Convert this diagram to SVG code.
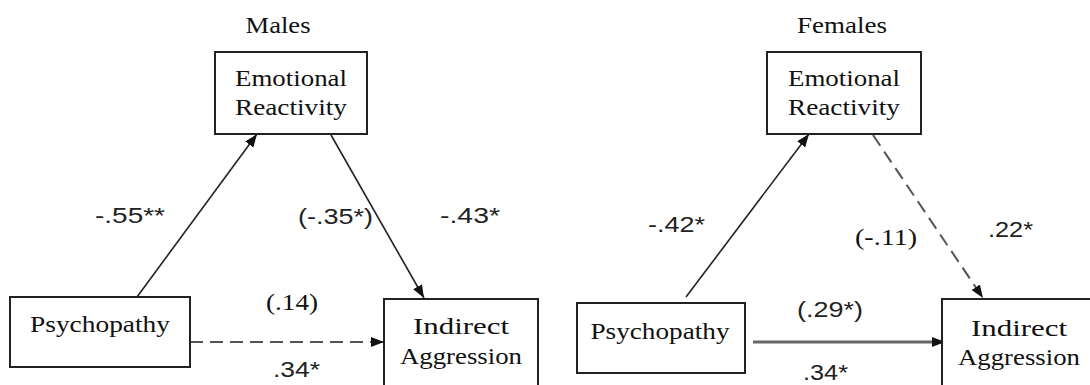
<svg xmlns="http://www.w3.org/2000/svg" width="1090" height="385" viewBox="0 0 1090 385">
<style>
.box{fill:#fff;stroke:#222;stroke-width:2}
.ser{font-family:"Liberation Serif","Times New Roman",serif;font-size:23px;fill:#111}
.san{font-family:"Liberation Sans",Arial,sans-serif;font-size:22px;fill:#222}
.solid{stroke:#222;stroke-width:1.6;fill:none}
.dash{stroke:#555;stroke-width:2;stroke-dasharray:13 7;fill:none}
.gray{stroke:#666;stroke-width:3;fill:none}
</style>
<defs>
<marker id="ah" markerUnits="userSpaceOnUse" markerWidth="14" markerHeight="12" refX="13" refY="5" orient="auto">
<path d="M0,0 L13,5 L0,10 z" fill="#111"/>
</marker>
</defs>
<rect width="1090" height="385" fill="#fff"/>
<text class="ser" x="278" y="33" text-anchor="middle" textLength="65" lengthAdjust="spacingAndGlyphs">Males</text>
<text class="ser" x="842" y="33" text-anchor="middle" textLength="90" lengthAdjust="spacingAndGlyphs">Females</text>
<g id="connectors">
<line class="solid" x1="137" y1="297" x2="257" y2="134" marker-end="url(#ah)"/>
<line class="solid" x1="331" y1="135" x2="424" y2="298" marker-end="url(#ah)"/>
<line class="dash" x1="190" y1="342" x2="384" y2="342" marker-end="url(#ah)"/>
<line class="solid" x1="686" y1="297" x2="809" y2="134" marker-end="url(#ah)"/>
<line class="dash" x1="873" y1="135" x2="983" y2="298" marker-end="url(#ah)"/>
<line class="gray" x1="753" y1="342" x2="945" y2="342" marker-end="url(#ah)"/>
</g>
<g id="m-emotional">
<rect class="box" x="215" y="52" width="152" height="82"/>
<text class="ser" x="291" y="86" text-anchor="middle" textLength="112" lengthAdjust="spacingAndGlyphs">Emotional</text>
<text class="ser" x="291" y="115" text-anchor="middle" textLength="112" lengthAdjust="spacingAndGlyphs">Reactivity</text>
</g>
<g id="m-psychopathy">
<rect class="box" x="10" y="297" width="180" height="70"/>
<text class="ser" x="100" y="332" text-anchor="middle" textLength="140" lengthAdjust="spacingAndGlyphs">Psychopathy</text>
</g>
<g id="m-indirect">
<rect class="box" x="384" y="299" width="154" height="100"/>
<text class="ser" x="461" y="334" text-anchor="middle" textLength="96" lengthAdjust="spacingAndGlyphs">Indirect</text>
<text class="ser" x="461" y="364" text-anchor="middle" textLength="122" lengthAdjust="spacingAndGlyphs">Aggression</text>
</g>
<g id="f-emotional">
<rect class="box" x="767" y="52" width="154" height="82"/>
<text class="ser" x="844" y="86" text-anchor="middle" textLength="112" lengthAdjust="spacingAndGlyphs">Emotional</text>
<text class="ser" x="844" y="115" text-anchor="middle" textLength="112" lengthAdjust="spacingAndGlyphs">Reactivity</text>
</g>
<g id="f-psychopathy">
<rect class="box" x="577" y="303" width="168" height="70"/>
<text class="ser" x="660" y="339" text-anchor="middle" textLength="139" lengthAdjust="spacingAndGlyphs">Psychopathy</text>
</g>
<g id="f-indirect">
<rect class="box" x="942" y="299" width="154" height="100"/>
<text class="ser" x="1019" y="336" text-anchor="middle" textLength="96" lengthAdjust="spacingAndGlyphs">Indirect</text>
<text class="ser" x="1019" y="365" text-anchor="middle" textLength="122" lengthAdjust="spacingAndGlyphs">Aggression</text>
</g>
<g id="labels">
<text class="san" x="95" y="223" textLength="70" lengthAdjust="spacingAndGlyphs">-.55**</text>
<text class="san" x="298" y="224" textLength="75" lengthAdjust="spacingAndGlyphs">(-.35*)</text>
<text class="san" x="440" y="223" textLength="60" lengthAdjust="spacingAndGlyphs">-.43*</text>
<text class="ser" x="266" y="310" textLength="52" lengthAdjust="spacingAndGlyphs">(.14)</text>
<text class="san" x="273" y="377" textLength="47" lengthAdjust="spacingAndGlyphs">.34*</text>
<text class="san" x="648" y="232" textLength="57" lengthAdjust="spacingAndGlyphs">-.42*</text>
<text class="ser" x="855" y="245" textLength="62" lengthAdjust="spacingAndGlyphs">(-.11)</text>
<text class="san" x="988" y="237" textLength="45" lengthAdjust="spacingAndGlyphs">.22*</text>
<text class="san" x="797" y="317" textLength="66" lengthAdjust="spacingAndGlyphs">(.29*)</text>
<text class="san" x="803" y="380" textLength="45" lengthAdjust="spacingAndGlyphs">.34*</text>
</g>
</svg>
